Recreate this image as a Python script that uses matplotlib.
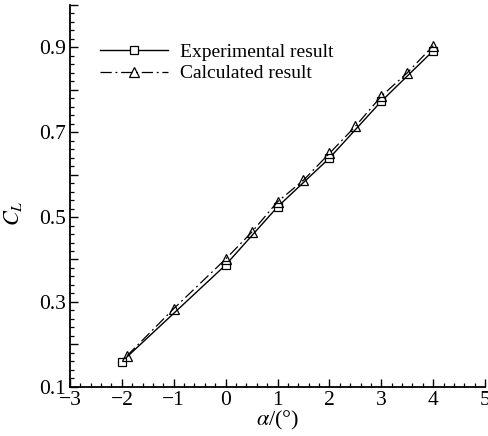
import numpy as np
import matplotlib
matplotlib.use('Agg')
import matplotlib.pyplot as plt
from matplotlib.ticker import MultipleLocator

plt.rcParams['font.family'] = ['Liberation Serif', 'DejaVu Serif']
plt.rcParams['mathtext.fontset'] = 'stix'

# data
alpha_exp = [-2, 0, 1, 2, 3, 4]
cl_exp = [0.159, 0.387, 0.524, 0.639, 0.773, 0.892]

alpha_calc = [-1.9, -1, 0, 0.5, 1, 1.5, 2, 2.5, 3, 3.5, 4]
cl_calc = [0.173, 0.284, 0.401, 0.464, 0.536, 0.587, 0.650, 0.714, 0.785, 0.840, 0.904]

ytick_vals = [0.1, 0.2, 0.3, 0.4, 0.5, 0.6, 0.7, 0.8, 0.9, 1.0]
ytick_labels = ['0.1', '', '0.3', '', '0.5', '', '0.7', '', '0.9', '']

fig = plt.figure(figsize=(4.89, 4.36), dpi=100)
ax = fig.add_axes([0.143, 0.113, 0.849, 0.8755])

ax.plot(alpha_exp, cl_exp, color='black', lw=1.0, ls='-',
        marker='s', ms=5.5, mfc='white', mec='black', mew=0.9,
        label='Experimental result')
ax.plot(alpha_calc, cl_calc, color='black', lw=0.9, ls='-',
        dashes=(9, 3, 1.5, 3),
        marker='^', ms=6.5, mfc='none', mec='black', mew=0.9,
        label='Calculated result')

ax.set_xlim(-3, 5)
ax.set_ylim(0.1, 1.0)
ax.set_xticks(range(-3, 6))
ax.xaxis.set_minor_locator(MultipleLocator(0.2))
ax.set_yticks(ytick_vals)
ax.set_yticklabels(ytick_labels)
ax.yaxis.set_minor_locator(MultipleLocator(0.02))

ax.tick_params(which='both', direction='in', labelsize=15.5, colors='black')
ax.tick_params(which='major', length=5.5, width=1.0)
ax.tick_params(which='minor', length=3, width=0.9)
ax.tick_params(axis='x', pad=3)
ax.tick_params(axis='y', pad=3)

for s in ['top', 'right']:
    ax.spines[s].set_visible(False)
for s in ['left', 'bottom']:
    ax.spines[s].set_linewidth(1.3)

ax.set_xlabel(r'$\alpha$/(°)', fontsize=16, labelpad=-1)
ax.set_ylabel(r'$C_L$', fontsize=16)
ax.yaxis.set_label_coords(-0.11, 0.455)

ax.legend(loc='upper left', bbox_to_anchor=(0.05, 0.925), frameon=False,
          fontsize=14, handlelength=3.5, handletextpad=0.6, numpoints=1,
          labelspacing=0.2, borderpad=0)

fig.savefig('out.png', dpi=100)
